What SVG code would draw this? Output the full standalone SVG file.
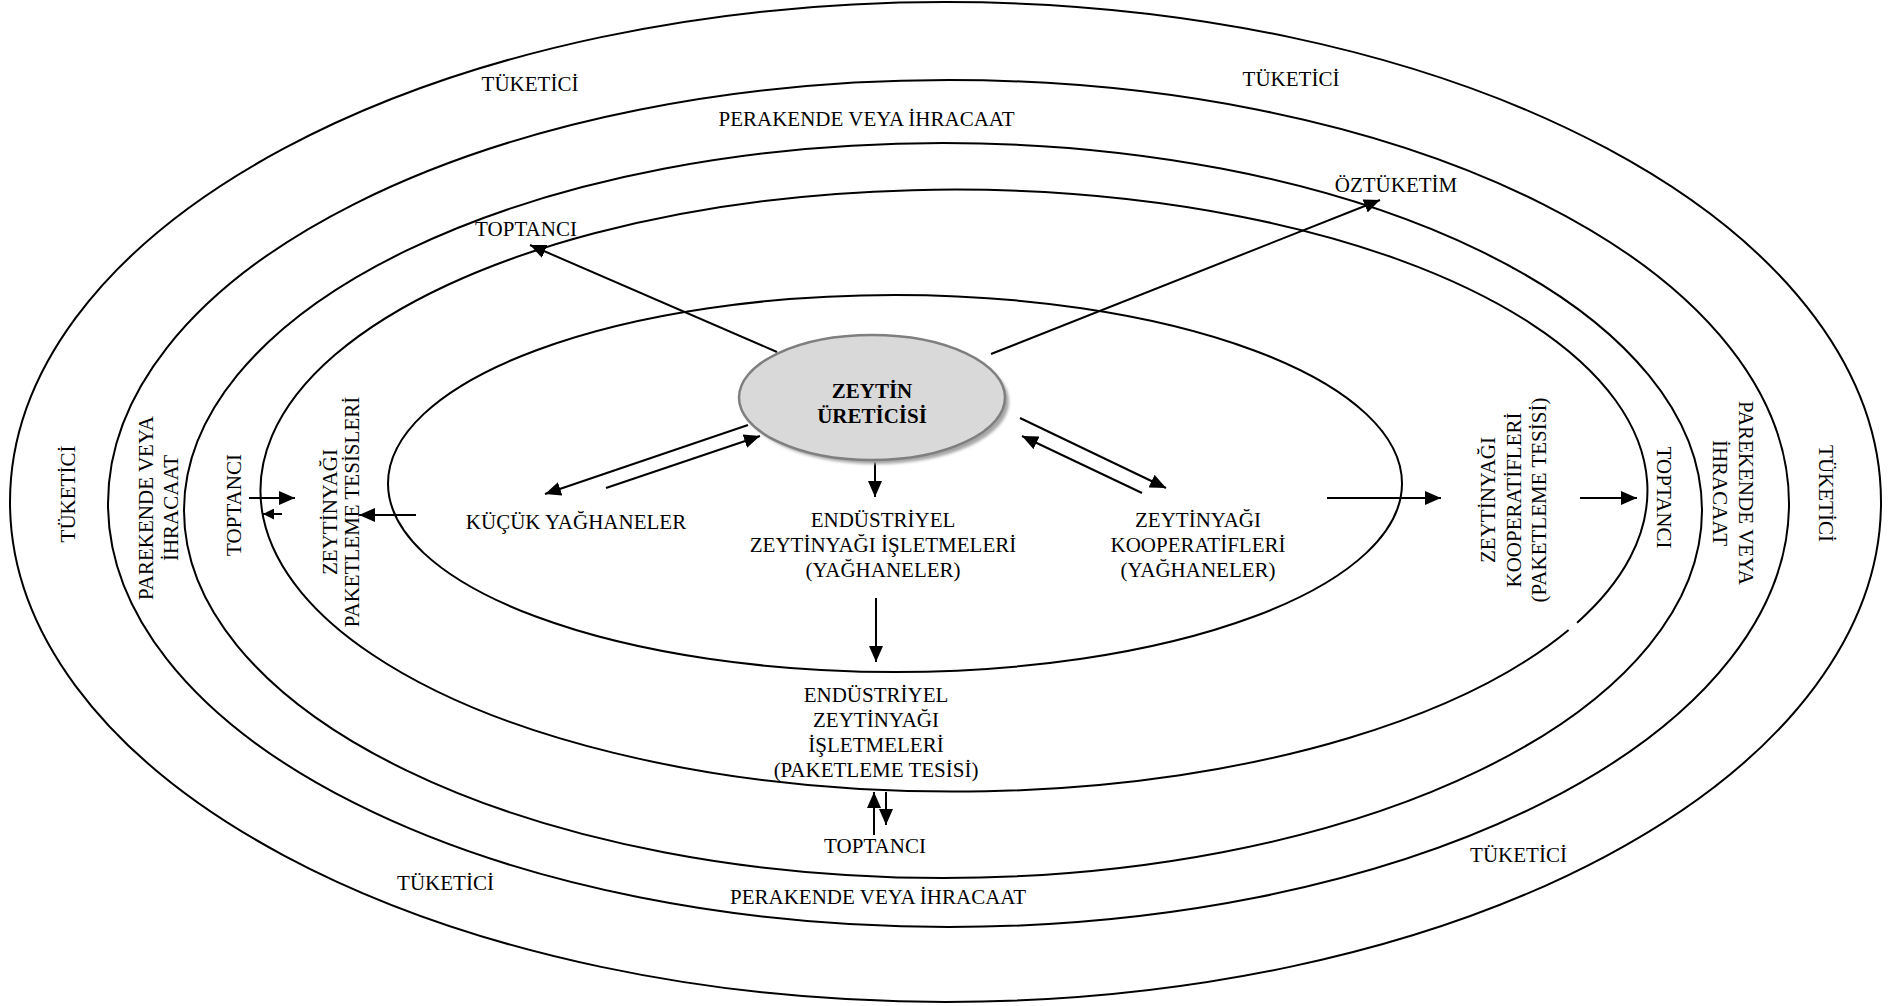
<svg xmlns="http://www.w3.org/2000/svg" width="1896" height="1006" viewBox="0 0 1896 1006">
  <style>
    .ring { fill: none; stroke: #000; stroke-width: 2; }
    .lbl { font-family: "Liberation Serif", "Times New Roman", serif; font-size: 21px; fill: #000; text-anchor: middle; }
    .bold { font-weight: bold; }
    .con { fill: none; stroke: #000; stroke-width: 2; marker-end: url(#head); }
    .con-s { fill: none; stroke: #000; stroke-width: 2; marker-end: url(#head-s); }
  </style>
  <defs>
    <marker id="head" viewBox="0 0 16 14" refX="16" refY="7" markerWidth="16" markerHeight="14" markerUnits="userSpaceOnUse" orient="auto">
      <path d="M0,0 L16,7 L0,14 z" fill="#000"/>
    </marker>
    <marker id="head-s" viewBox="0 0 11 11" refX="11" refY="5.5" markerWidth="11" markerHeight="11" markerUnits="userSpaceOnUse" orient="auto">
      <path d="M0,0 L11,5.5 L0,11 z" fill="#000"/>
    </marker>
    <filter id="soft" x="-10%" y="-10%" width="120%" height="130%">
      <feGaussianBlur stdDeviation="1.6"/>
    </filter>
  </defs>

  <rect width="1896" height="1006" fill="#fff"/>

  <!-- concentric market rings -->
  <g id="ring-tuketici">
    <ellipse class="ring" cx="945.5" cy="502" rx="935.5" ry="500"/>
    <text class="lbl" x="530" y="91">TÜKETİCİ</text>
    <text class="lbl" x="1291" y="86">TÜKETİCİ</text>
    <text class="lbl" x="445.5" y="890">TÜKETİCİ</text>
    <text class="lbl" x="1518.5" y="862">TÜKETİCİ</text>
    <text class="lbl" transform="translate(75,494) rotate(-90)">TÜKETİCİ</text>
    <text class="lbl" transform="translate(1819,493.5) rotate(90)">TÜKETİCİ</text>
  </g>

  <g id="ring-perakende">
    <ellipse class="ring" cx="948.5" cy="503.5" rx="840.5" ry="423.5"/>
    <text class="lbl" x="866.5" y="126">PERAKENDE VEYA İHRACAAT</text>
    <text class="lbl" x="878" y="904">PERAKENDE VEYA İHRACAAT</text>
    <text class="lbl" transform="translate(153,508) rotate(-90)"><tspan x="0" y="0">PAREKENDE VEYA</tspan><tspan x="0" dy="24.5">İHRACAAT</tspan></text>
    <text class="lbl" transform="translate(1739,493) rotate(90)"><tspan x="0" y="0">PAREKENDE VEYA</tspan><tspan x="0" dy="26">İHRACAAT</tspan></text>
  </g>

  <g id="ring-toptanci">
    <ellipse class="ring" cx="943" cy="510.5" rx="759" ry="367.5"/>
    <text class="lbl" x="526" y="236">TOPTANCI</text>
    <text class="lbl" x="1396" y="192">ÖZTÜKETİM</text>
    <text class="lbl" x="875" y="853">TOPTANCI</text>
    <text class="lbl" transform="translate(241,505) rotate(-90)">TOPTANCI</text>
    <text class="lbl" transform="translate(1657,497.5) rotate(90)">TOPTANCI</text>
  </g>

  <g id="ring-paketleme">
    <!-- one arc round the ring, leaving a small break at lower right -->
    <path class="ring" d="M1577.1,622.7 A693.5,301 0 1 0 1568.6,630"/>
    <text class="lbl" transform="translate(337,512) rotate(-90)"><tspan x="0" y="0">ZEYTİNYAĞI</tspan><tspan x="0" dy="22">PAKETLEME TESİSLERİ</tspan></text>
    <text class="lbl" transform="translate(1495,500) rotate(-90)"><tspan x="0" y="0">ZEYTİNYAĞI</tspan><tspan x="0" dy="26">KOOPERATİFLERİ</tspan><tspan x="0" dy="25">(PAKETLEME TESİSİ)</tspan></text>
    <text class="lbl"><tspan x="876" y="702">ENDÜSTRİYEL</tspan><tspan x="876" y="727">ZEYTİNYAĞI</tspan><tspan x="876" y="752">İŞLETMELERİ</tspan><tspan x="876" y="777">(PAKETLEME TESİSİ)</tspan></text>
  </g>

  <g id="ring-yaghane">
    <ellipse class="ring" cx="895" cy="483.5" rx="507" ry="188.5"/>
    <text class="lbl" x="576" y="529">KÜÇÜK YAĞHANELER</text>
    <text class="lbl"><tspan x="883" y="527">ENDÜSTRİYEL</tspan><tspan x="883" y="552">ZEYTİNYAĞI İŞLETMELERİ</tspan><tspan x="883" y="577">(YAĞHANELER)</tspan></text>
    <text class="lbl"><tspan x="1198" y="527">ZEYTİNYAĞI</tspan><tspan x="1198" y="552">KOOPERATİFLERİ</tspan><tspan x="1198" y="577">(YAĞHANELER)</tspan></text>
  </g>

  <!-- flows between the channel levels -->
  <g id="connectors">
    <line class="con" x1="777" y1="352" x2="530" y2="245"/>
    <line class="con" x1="991" y1="354" x2="1380" y2="200"/>
    <line class="con" x1="748" y1="425" x2="545" y2="494"/>
    <line class="con" x1="606" y1="488" x2="760" y2="436"/>
    <line class="con" x1="875" y1="462" x2="875" y2="497"/>
    <line class="con" x1="876" y1="598" x2="876" y2="662"/>
    <line class="con" x1="1020" y1="418" x2="1166" y2="488"/>
    <line class="con" x1="1142" y1="493" x2="1022" y2="436"/>
    <line class="con" x1="1327" y1="498" x2="1441" y2="498"/>
    <line class="con" x1="1580" y1="498" x2="1637" y2="498"/>
    <line class="con" x1="416" y1="515" x2="359" y2="515"/>
    <line class="con" x1="249" y1="498" x2="295" y2="498"/>
    <line class="con-s" x1="282" y1="514" x2="263" y2="514"/>
    <line class="con" x1="874" y1="835" x2="874" y2="792"/>
    <line class="con" x1="886" y1="792" x2="886" y2="825"/>
  </g>

  <g id="zeytin-ureticisi">
    <ellipse cx="876" cy="401.5" rx="133" ry="62.5" fill="#a6a6a6" filter="url(#soft)"/>
    <ellipse cx="872" cy="397.5" rx="133" ry="62.5" fill="#d9d9d9" stroke="#7f7f7f" stroke-width="2.5"/>
    <text class="lbl bold"><tspan x="872" y="398">ZEYTİN</tspan><tspan x="872" y="423">ÜRETİCİSİ</tspan></text>
  </g>
</svg>
